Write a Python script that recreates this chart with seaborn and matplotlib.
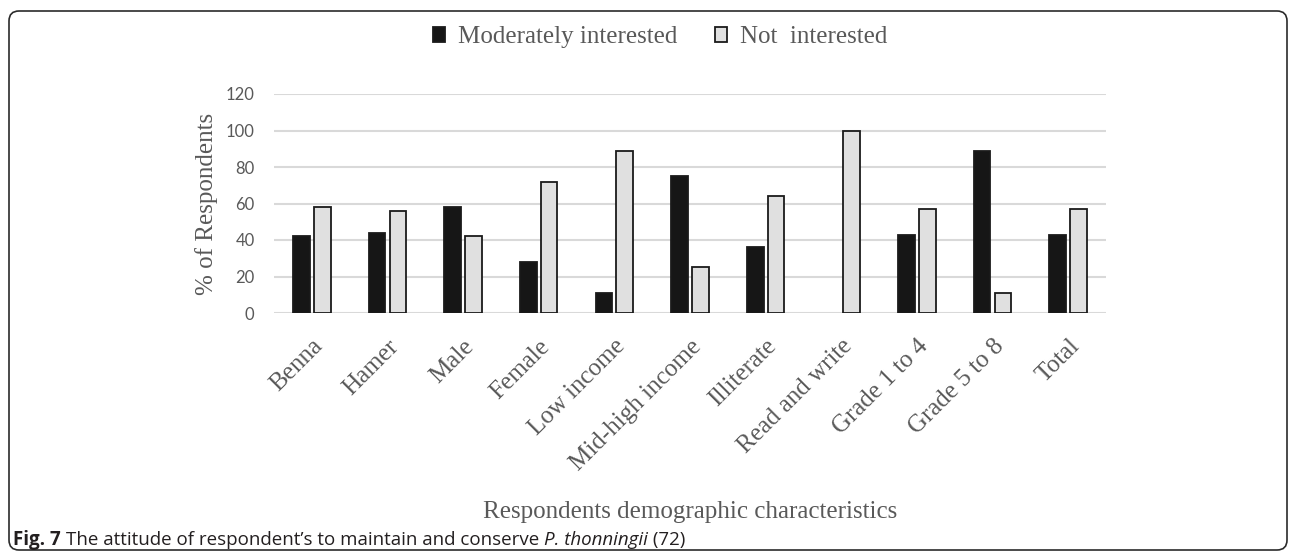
import pandas as pd
import matplotlib.pyplot as plt
import seaborn as sns
from matplotlib.patches import FancyBboxPatch
from matplotlib.transforms import IdentityTransform

categories = ["Benna", "Hamer", "Male", "Female", "Low income", "Mid-high income",
              "Illiterate", "Read and write", "Grade 1 to 4", "Grade 5 to 8", "Total"]
moderately = [42, 44, 58, 28, 11, 75, 36, 0, 43, 89, 43]
not_interested = [58, 56, 42, 72, 89, 25, 64, 100, 57, 11, 57]
series_names = ["Moderately interested", "Not  interested"]
y_ticks = [0, 20, 40, 60, 80, 100, 120]

SERIF = "Liberation Serif"
GREY_TXT = "#595959"

df = pd.DataFrame({"group": categories, series_names[0]: moderately, series_names[1]: not_interested})
df = df.melt(id_vars="group", var_name="series", value_name="pct")

sns.set_style("white")
fig = plt.figure(figsize=(12.9, 5.52), dpi=100)
ax = fig.add_axes([274 / 1290, 1 - 313 / 552, 832 / 1290, 219 / 552])

sns.barplot(data=df, x="group", y="pct", hue="series", hue_order=series_names,
            order=categories, palette=["#161616", "#e0e0e0"], width=0.55, gap=0.2,
            edgecolor="#1a1a1a", linewidth=1.3, ax=ax)

# empty bars should not leave an outline on the baseline (skip legend proxies)
for p in ax.patches:
    if p.get_height() == 0 and p.get_width() > 0:
        p.set_linewidth(0)

ax.set_ylim(0, 120)
ax.set_yticks(y_ticks)
ax.set_xlim(-0.5, len(categories) - 0.5)
ax.yaxis.grid(True, color="#d9d9d9", linewidth=1.5)
ax.set_axisbelow(True)
for s in ax.spines.values():
    s.set_visible(False)
ax.tick_params(axis="both", length=0)
ax.tick_params(axis="y", pad=14, labelcolor=GREY_TXT, labelsize=12)
for lab in ax.get_yticklabels():
    lab.set_fontfamily("Lato")

ax.set_xticks(range(len(categories)))
ax.set_xticklabels(categories, rotation=45, ha="right", va="top", rotation_mode="anchor",
                   family=SERIF, fontsize=18, color=GREY_TXT)
ax.tick_params(axis="x", pad=16)

ax.set_ylabel("% of Respondents", family=SERIF, fontsize=18, color=GREY_TXT)
ax.yaxis.set_label_coords(-0.067, 0.5)
ax.set_xlabel("Respondents demographic characteristics", family=SERIF, fontsize=18, color=GREY_TXT)
ax.xaxis.set_label_coords(0.5, -0.86)

handles, labels = ax.get_legend_handles_labels()
ax.get_legend().remove()
fig.legend(handles, labels, loc="center", bbox_to_anchor=(660 / 1290, 1 - 37 / 552),
           ncol=2, frameon=False, prop={"family": SERIF, "size": 18},
           labelcolor=GREY_TXT, handlelength=0.5, handleheight=0.55,
           handletextpad=0.5, columnspacing=1.5)

# rounded frame round the whole figure
frame = FancyBboxPatch((9, 2), 1278, 539, boxstyle="round,pad=0,rounding_size=10",
                       transform=IdentityTransform(), fill=False, edgecolor="#2b2b2b",
                       linewidth=1.2, figure=fig)
fig.patches.append(frame)

# caption, drawn piece by piece
renderer = fig.canvas.get_renderer()
pieces = [("Fig. 7 ", "bold", "normal"),
          ("The attitude of respondent\u2019s to maintain and conserve ", "normal", "normal"),
          ("P. thonningii", "normal", "italic"),
          (" (72)", "normal", "normal")]
x = 13 / 1290
y = 1 - 540 / 552
for txt, weight, style in pieces:
    t = fig.text(x, y, txt, family="Open Sans", fontsize=13.5, weight=weight, style=style,
                 color="#231f20", va="center", ha="left")
    bb = t.get_window_extent(renderer=renderer)
    x += bb.width / fig.bbox.width

fig.savefig("out.png", dpi=100)
